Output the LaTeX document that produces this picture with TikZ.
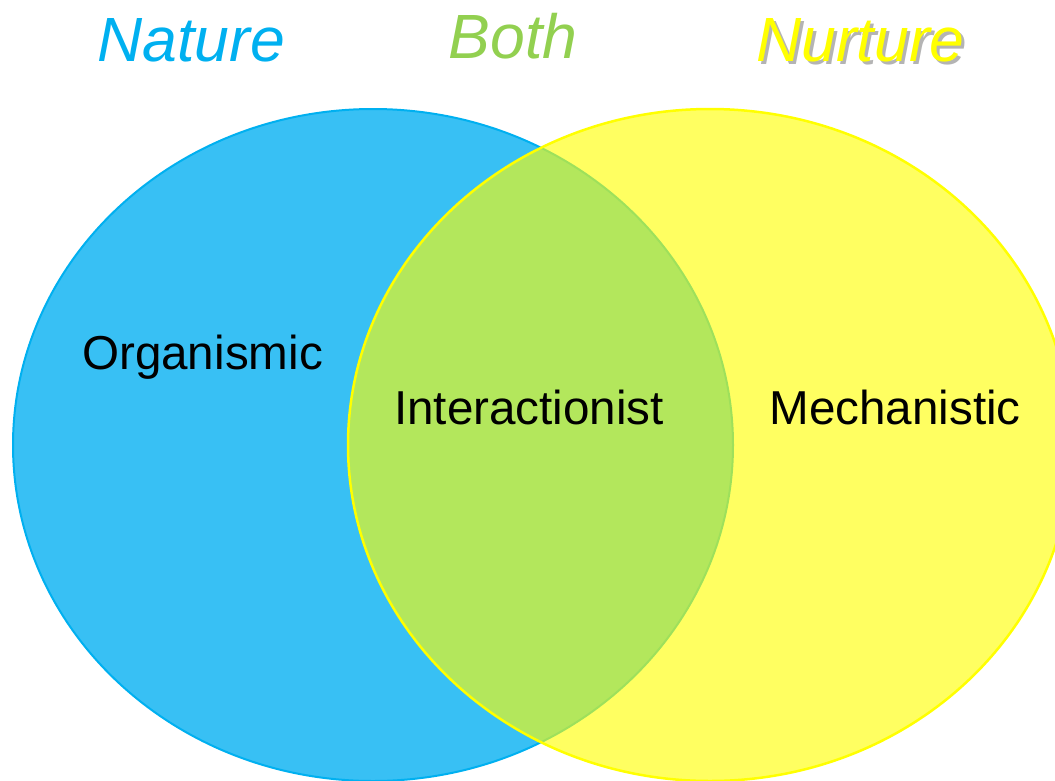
\documentclass[tikz,border=0pt]{standalone}
\usepackage{fontspec}
\setmainfont{Liberation Sans}
\definecolor{natureblue}{HTML}{38C0F4}
\definecolor{natureedge}{HTML}{00B0F0}
\definecolor{nurtureyellow}{HTML}{FFFF00}
\definecolor{bothgreen}{HTML}{92D050}
\definecolor{shadowgray}{HTML}{B4B4B4}
% text with a soft grey drop shadow behind it
\newcommand{\shadowedword}[1]{%
  \rlap{\hspace{3pt}\raisebox{-3pt}{\textcolor{shadowgray}{#1}}}\textcolor{nurtureyellow}{#1}}
\begin{document}
\begin{tikzpicture}[x=1pt,y=-1pt,
  label/.style={font=\fontsize{47.6}{57}\selectfont, text=black, anchor=base, inner sep=0pt},
  heading/.style={font=\fontsize{62.5}{75}\selectfont\itshape, anchor=base, inner sep=0pt}]
  \useasboundingbox (0,0) rectangle (1055,780);
  % left circle (nature)
  \fill[natureblue] (373,445) ellipse [x radius=360, y radius=336];
  \draw[natureedge, line width=2] (373,445) ellipse [x radius=360, y radius=336];
  % right circle (nurture), translucent over the left one
  \fill[nurtureyellow, fill opacity=0.62] (710,445) ellipse [x radius=362, y radius=336];
  \draw[nurtureyellow, line width=2.5] (710,445) ellipse [x radius=362, y radius=336];
  % region labels
  \node[label] (org) at (202.5,369) {Organismic};
  \node[label] (inter) at (529,424) {Interactionist};
  \node[label] (mech) at (895,424) {Mechanistic};
  % headings
  \node[heading, text=natureedge] (nature) at (191,61) {Nature};
  \node[heading, text=bothgreen] (both) at (513,58) {Both};
  \node[heading] (nurture) at (860.5,61) {\shadowedword{Nurture}};
\end{tikzpicture}
\end{document}
